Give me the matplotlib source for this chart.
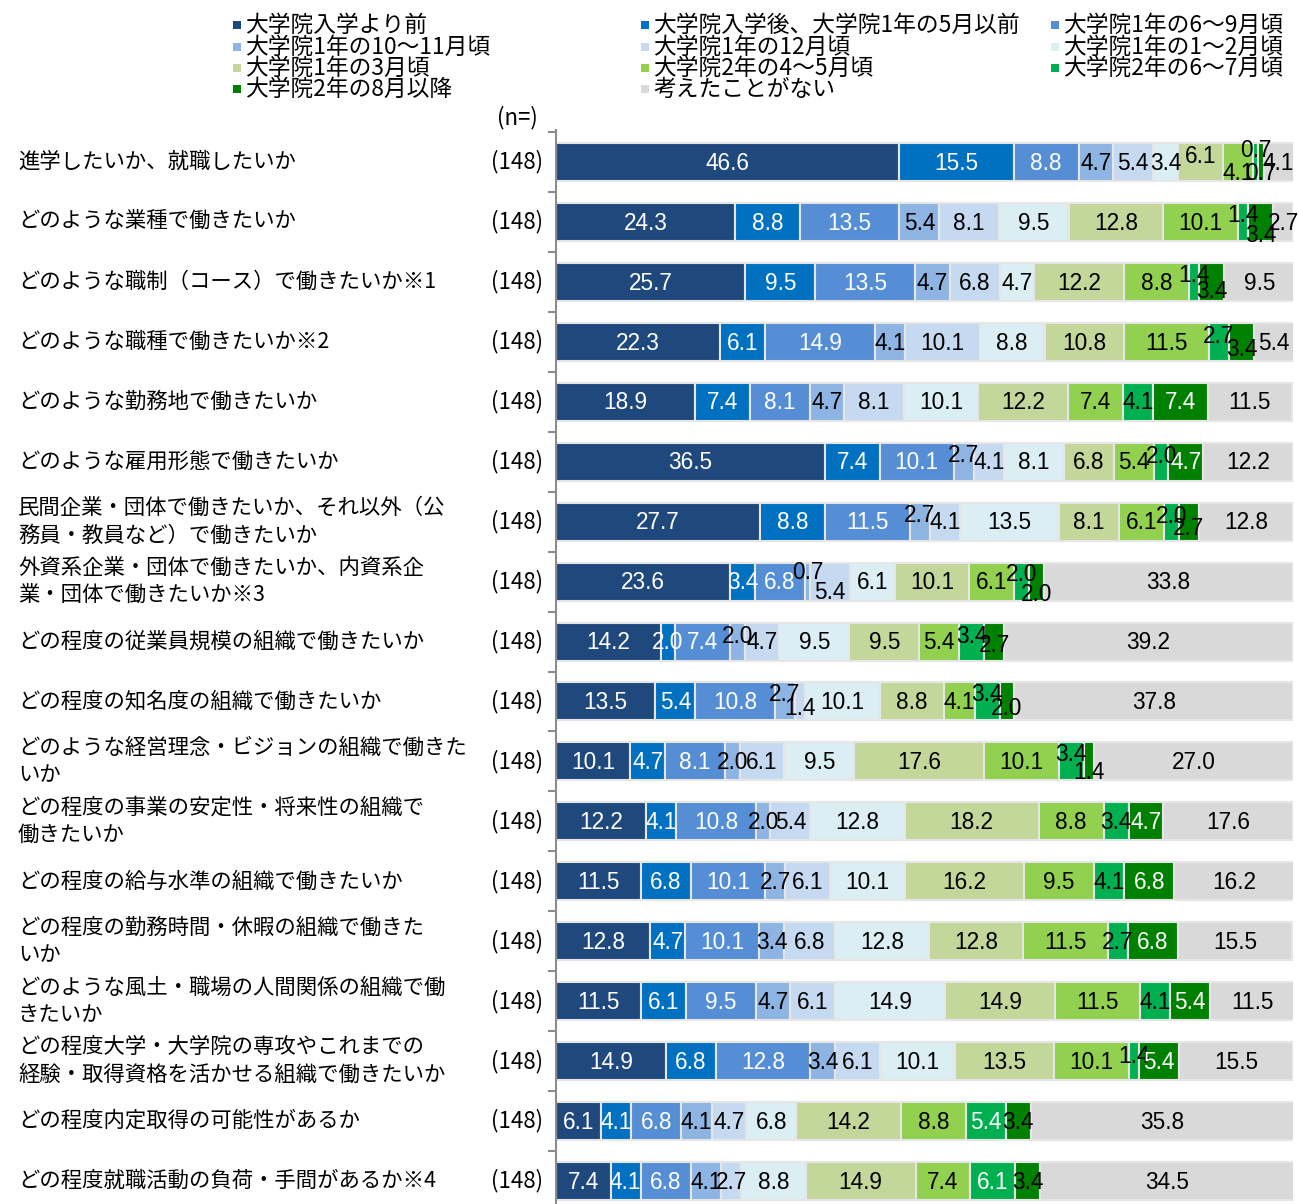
import matplotlib
matplotlib.use("Agg")
import matplotlib.pyplot as plt
import matplotlib.transforms as mtransforms
from matplotlib.patches import Rectangle
import numpy as np

plt.rcParams['font.family'] = ['Noto Sans CJK JP', 'DejaVu Sans']

# ---------------- data ----------------
series_names = [
    "大学院入学より前",
    "大学院入学後、大学院1年の5月以前",
    "大学院1年の6～9月頃",
    "大学院1年の10～11月頃",
    "大学院1年の12月頃",
    "大学院1年の1～2月頃",
    "大学院1年の3月頃",
    "大学院2年の4～5月頃",
    "大学院2年の6～7月頃",
    "大学院2年の8月以降",
    "考えたことがない",
]
colors = ["#1F497D", "#0070C0", "#558ED5", "#8DB4E2", "#C5D9F1", "#DAEEF3",
          "#C4D79B", "#92D050", "#00B050", "#008000", "#D9D9D9"]

categories = [
    "進学したいか、就職したいか",
    "どのような業種で働きたいか",
    "どのような職制（コース）で働きたいか※1",
    "どのような職種で働きたいか※2",
    "どのような勤務地で働きたいか",
    "どのような雇用形態で働きたいか",
    "民間企業・団体で働きたいか、それ以外（公\n務員・教員など）で働きたいか",
    "外資系企業・団体で働きたいか、内資系企\n業・団体で働きたいか※3",
    "どの程度の従業員規模の組織で働きたいか",
    "どの程度の知名度の組織で働きたいか",
    "どのような経営理念・ビジョンの組織で働きた\nいか",
    "どの程度の事業の安定性・将来性の組織で\n働きたいか",
    "どの程度の給与水準の組織で働きたいか",
    "どの程度の勤務時間・休暇の組織で働きた\nいか",
    "どのような風土・職場の人間関係の組織で働\nきたいか",
    "どの程度大学・大学院の専攻やこれまでの\n経験・取得資格を活かせる組織で働きたいか",
    "どの程度内定取得の可能性があるか",
    "どの程度就職活動の負荷・手間があるか※4",
]
n_values = [148] * 18

row01 = [46.6, 15.5, 8.8, 4.7, 5.4, 3.4, 6.1, 4.1, 0.7, 0.7, 4.1]
row02 = [24.3, 8.8, 13.5, 5.4, 8.1, 9.5, 12.8, 10.1, 1.4, 3.4, 2.7]
row03 = [25.7, 9.5, 13.5, 4.7, 6.8, 4.7, 12.2, 8.8, 1.4, 3.4, 9.5]
row04 = [22.3, 6.1, 14.9, 4.1, 10.1, 8.8, 10.8, 11.5, 2.7, 3.4, 5.4]
row05 = [18.9, 7.4, 8.1, 4.7, 8.1, 10.1, 12.2, 7.4, 4.1, 7.4, 11.5]
row06 = [36.5, 7.4, 10.1, 2.7, 4.1, 8.1, 6.8, 5.4, 2.0, 4.7, 12.2]
row07 = [27.7, 8.8, 11.5, 2.7, 4.1, 13.5, 8.1, 6.1, 2.0, 2.7, 12.8]
row08 = [23.6, 3.4, 6.8, 0.7, 5.4, 6.1, 10.1, 6.1, 2.0, 2.0, 33.8]
row09 = [14.2, 2.0, 7.4, 2.0, 4.7, 9.5, 9.5, 5.4, 3.4, 2.7, 39.2]
row10 = [13.5, 5.4, 10.8, 2.7, 1.4, 10.1, 8.8, 4.1, 3.4, 2.0, 37.8]
row11 = [10.1, 4.7, 8.1, 2.0, 6.1, 9.5, 17.6, 10.1, 3.4, 1.4, 27.0]
row12 = [12.2, 4.1, 10.8, 2.0, 5.4, 12.8, 18.2, 8.8, 3.4, 4.7, 17.6]
row13 = [11.5, 6.8, 10.1, 2.7, 6.1, 10.1, 16.2, 9.5, 4.1, 6.8, 16.2]
row14 = [12.8, 4.7, 10.1, 3.4, 6.8, 12.8, 12.8, 11.5, 2.7, 6.8, 15.5]
row15 = [11.5, 6.1, 9.5, 4.7, 6.1, 14.9, 14.9, 11.5, 4.1, 5.4, 11.5]
row16 = [14.9, 6.8, 12.8, 3.4, 6.1, 10.1, 13.5, 10.1, 1.4, 5.4, 15.5]
row17 = [6.1, 4.1, 6.8, 4.1, 4.7, 6.8, 14.2, 8.8, 5.4, 3.4, 35.8]
row18 = [7.4, 4.1, 6.8, 4.1, 2.7, 8.8, 14.9, 7.4, 6.1, 3.4, 34.5]

rows = [row01, row02, row03, row04, row05, row06, row07, row08, row09,
        row10, row11, row12, row13, row14, row15, row16, row17, row18]

# label vertical nudges (pixels; negative = up) for crowded small segments
nudges = {
    (0, 6): -7, (0, 7): 10, (0, 8): -13, (0, 9): 10,
    (1, 8): -8, (1, 9): 12,
    (2, 8): -8, (2, 9): 8,
    (3, 8): -7, (3, 9): 6,
    (5, 3): -7, (5, 8): -6,
    (6, 3): -7, (6, 8): -6, (6, 9): 6,
    (7, 3): -10, (7, 4): 10, (7, 8): -8, (7, 9): 12,
    (8, 3): -6, (8, 8): -6, (8, 9): 3,
    (9, 3): -8, (9, 4): 6, (9, 8): -8, (9, 9): 6,
    (10, 8): -8, (10, 9): 10,
    (15, 8): -6,
}

# ---------------- figure ----------------
W, H = 1299, 1204
fig = plt.figure(figsize=(W / 100, H / 100), dpi=100)

ax_left, ax_right = 556, 1293
ax_top, ax_bot = 130, 1204
ax = fig.add_axes([ax_left / W, 1 - ax_bot / H, (ax_right - ax_left) / W, (ax_bot - ax_top) / H])

data = np.array(rows)
nrows = len(rows)
ypos = np.arange(nrows)
px_per_unit = 59.94
ax.set_ylim(17 + 23 / px_per_unit, -32 / px_per_unit)
ax.set_xlim(0, 100)

bar_h = 0.634
num_font = ['Liberation Sans Narrow', 'Liberation Sans', 'DejaVu Sans']
left = np.zeros(nrows)
for j in range(len(series_names)):
    vals = data[:, j]
    ax.barh(ypos, vals, left=left, height=bar_h, color=colors[j],
            edgecolor='#E6E6E6', linewidth=1.5, label=series_names[j], zorder=2)
    for i in range(nrows):
        v = vals[i]
        white = (j in (0, 1, 2)) or (j == 8 and v >= 5) or (j == 9 and v >= 4)
        dy = nudges.get((i, j), 0) / px_per_unit
        ax.text(left[i] + v / 2, ypos[i] + dy + 0.02, f"{v:.1f}", ha='center', va='center',
                fontsize=16.3, family=num_font,
                color='white' if white else 'black', zorder=5)
    left += vals

# axis styling
for s in ['top', 'right', 'bottom']:
    ax.spines[s].set_visible(False)
ax.spines['left'].set_color('#8C8C8C')
ax.spines['left'].set_linewidth(1.5)
ax.set_xticks([])
ax.set_yticks(np.arange(-0.5, nrows - 0.5, 1.0))
ax.set_yticklabels([])
ax.tick_params(axis='y', direction='out', length=6, width=1.5, color='#8C8C8C')

# category labels and n
trans = mtransforms.blended_transform_factory(fig.transFigure, ax.transData)
for i, (lab, n) in enumerate(zip(categories, n_values)):
    ax.text(18 / W, ypos[i], lab, transform=trans, ha='left', va='center',
            fontsize=15.4, linespacing=1.32, color='black', clip_on=False)
    ax.text(543 / W, ypos[i], f"({n})", transform=trans, ha='right', va='center',
            fontsize=16, color='black', clip_on=False)
fig.text(517 / W, 1 - 118 / H, "(n=)", ha='center', va='center', fontsize=16, color='black')

# legend (row-major, 3 columns)
leg_cols_x = [233, 641, 1051]
leg_rows_y = [25, 47, 68, 89]
sq = 8
for k, name in enumerate(series_names):
    r, c = divmod(k, 3)
    x0 = leg_cols_x[c]
    y0 = leg_rows_y[r]
    fig.patches.append(Rectangle(((x0) / W, 1 - (y0 + sq / 2) / H), sq / W, sq / H,
                                 transform=fig.transFigure, facecolor=colors[k],
                                 edgecolor='none'))
    fig.text((x0 + 12) / W, 1 - y0 / H, name, ha='left', va='center',
             fontsize=16.4, color='black')

fig.savefig("out.png", dpi=100)
